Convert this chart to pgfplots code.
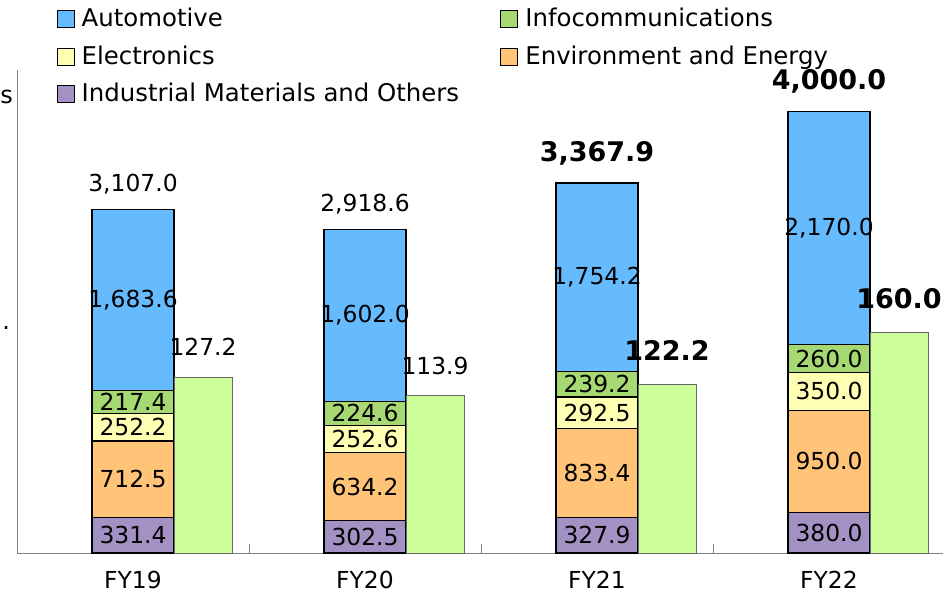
\documentclass[border=0pt]{standalone}
\usepackage{fontspec}
\setmainfont{DejaVu Sans}
\usepackage{pgfplots}
\pgfplotsset{compat=1.18}

\definecolor{cAuto}{HTML}{66BBFF}
\definecolor{cInfo}{HTML}{A6D972}
\definecolor{cElec}{HTML}{FFFFB3}
\definecolor{cEnv}{HTML}{FFC478}
\definecolor{cInd}{HTML}{A291C2}
\definecolor{cOp}{HTML}{CCFF99}

\newcommand\lbl{\fontsize{11.7}{14}\selectfont}
\newcommand\blbl{\fontsize{13.5}{16}\selectfont\bfseries}

\pgfplotsset{
  frame/.style={
    at={(8.5pt,-276.5pt)}, anchor=south west,
    scale only axis, width=464pt, height=241.5pt,
    xmin=-0.5, xmax=3.5, ymin=0,
  },
}

\begin{document}
\begin{tikzpicture}
% net sales by segment (left scale)
\begin{axis}[
  frame, ymax=4500,
  axis x line=bottom, axis y line=left,
  axis line style={-, draw=gray},
  ytick=\empty,
  xtick={0,1,2,3}, xticklabels={FY19,FY20,FY21,FY22},
  major x tick style={draw=none},
  minor xtick={0.5,1.5,2.5}, minor tick length=4.5pt, tick align=inside,
  minor x tick style={draw=gray},
  xticklabel style={font=\lbl, anchor=center, yshift=-13.5pt},
  ybar stacked, bar width=41pt,
  clip=false,
  reverse legend, legend columns=2, legend cell align=left,
  legend image code/.code={\draw[#1,draw=black,line width=0.6pt] (0pt,-4.25pt) rectangle (8.5pt,4.25pt); \path (10pt,0pt);},
  legend style={draw=none, fill=none, font=\fontsize{12.2}{14}\selectfont,
    at={(0.0357,1.145)}, anchor=north west, row sep=4pt,
    /tikz/column 2/.style={column sep=18.5pt}},
  every axis plot/.append style={draw=black, line width=0.6pt},
]
\addplot[fill=cInd] coordinates {(0,331.4) (1,302.5) (2,327.9) (3,380.0)};
\addlegendentry{Industrial Materials and Others}
\addplot[fill=cEnv] coordinates {(0,712.5) (1,634.2) (2,833.4) (3,950.0)};
\addlegendentry{Environment and Energy}
\addplot[fill=cElec] coordinates {(0,252.2) (1,252.6) (2,292.5) (3,350.0)};
\addlegendentry{Electronics}
\addplot[fill=cInfo] coordinates {(0,217.4) (1,224.6) (2,239.2) (3,260.0)};
\addlegendentry{Infocommunications}
\addplot[fill=cAuto] coordinates {(0,1683.6) (1,1602.0) (2,1754.2) (3,2170.0)};
\addlegendentry{Automotive}
\end{axis}

% operating income (right scale)
\begin{axis}[
  frame, ymax=350,
  hide axis, clip=false,
  ybar, bar width=29pt, bar shift=35pt,
]
\addplot[fill=cOp, draw=gray!80!black, line width=0.5pt]
  coordinates {(0,127.2) (1,113.9) (2,122.2) (3,160.0)};
\node[font=\lbl, xshift=35pt, yshift=15.5pt] at (axis cs:0,127.2) {127.2};
\node[font=\lbl, xshift=35pt, yshift=15pt] at (axis cs:1,113.9) {113.9};
\node[font=\blbl, xshift=35pt, yshift=17pt] at (axis cs:2,122.2) {122.2};
\node[font=\blbl, xshift=35pt, yshift=17pt] at (axis cs:3,160.0) {160.0};
\end{axis}

% value labels on the left scale, drawn above the bars
\begin{axis}[frame, ymax=4500, hide axis, clip=false]
\node[font=\lbl] at (axis cs:0,165.7) {331.4};
\node[font=\lbl] at (axis cs:0,687.65) {712.5};
\node[font=\lbl] at (axis cs:0,1170.0) {252.2};
\node[font=\lbl] at (axis cs:0,1404.8) {217.4};
\node[font=\lbl] at (axis cs:0,2355.3) {1,683.6};
\node[font=\lbl] at (axis cs:1,151.25) {302.5};
\node[font=\lbl] at (axis cs:1,619.6) {634.2};
\node[font=\lbl] at (axis cs:1,1063.0) {252.6};
\node[font=\lbl] at (axis cs:1,1301.6) {224.6};
\node[font=\lbl] at (axis cs:1,2214.9) {1,602.0};
\node[font=\lbl] at (axis cs:2,163.95) {327.9};
\node[font=\lbl] at (axis cs:2,744.6) {833.4};
\node[font=\lbl] at (axis cs:2,1307.55) {292.5};
\node[font=\lbl] at (axis cs:2,1573.4) {239.2};
\node[font=\lbl] at (axis cs:2,2570.1) {1,754.2};
\node[font=\lbl] at (axis cs:3,190) {380.0};
\node[font=\lbl] at (axis cs:3,855) {950.0};
\node[font=\lbl] at (axis cs:3,1505) {350.0};
\node[font=\lbl] at (axis cs:3,1810) {260.0};
\node[font=\lbl] at (axis cs:3,3025) {2,170.0};
\node[font=\lbl, yshift=13pt] at (axis cs:0,3197.1) {3,107.0};
\node[font=\lbl, yshift=12.5pt] at (axis cs:1,3015.9) {2,918.6};
\node[font=\blbl, yshift=15pt] at (axis cs:2,3447.2) {3,367.9};
\node[font=\blbl, yshift=15pt] at (axis cs:3,4110.0) {4,000.0};
\end{axis}

% remnants of the axis titles at the left edge
\node[font=\fontsize{12}{14}\selectfont, anchor=west, inner sep=0pt] at (0pt,-48.5pt) {s};
\node[font=\fontsize{12}{14}\selectfont, anchor=west, inner sep=0pt] at (1pt,-164pt) {.};

\pgfresetboundingbox
\useasboundingbox (0,0) rectangle (471.5pt,-296.5pt);
\end{tikzpicture}
\end{document}
